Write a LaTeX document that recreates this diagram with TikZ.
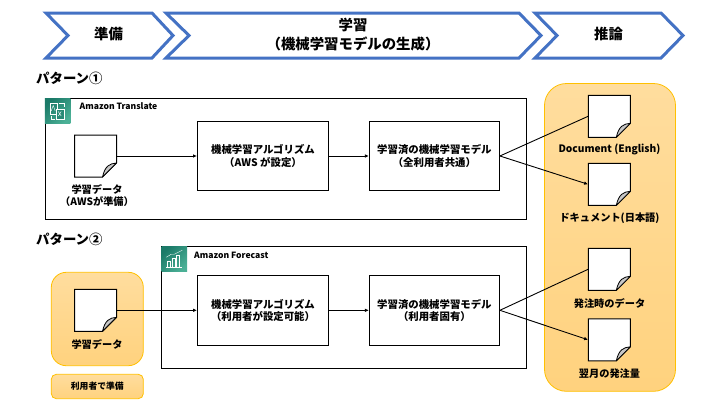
\documentclass[tikz,border=0pt]{standalone}
\usepackage{fontspec}
\setmainfont{Noto Sans CJK JP}
\usetikzlibrary{arrows.meta}
\definecolor{chevblue}{HTML}{4472C4}
\definecolor{goldline}{HTML}{FFC000}
\definecolor{goldtop}{HTML}{FFDD9E}
\definecolor{goldbot}{HTML}{FFD27E}
\definecolor{icondark}{HTML}{1B7A68}
\definecolor{iconlight}{HTML}{4BB096}
\tikzset{
  chev/.style={draw=chevblue,line width=3pt,miter limit=10,fill=white},
  panelbox/.style={draw=black,line width=1pt,fill=white,inner sep=0pt},
  procbox/.style={draw=black,line width=1pt,fill=white,inner sep=0pt,align=center,minimum height=69pt,font=\fontsize{10.4}{12.4}\selectfont\bfseries},
  goldbox/.style={draw=goldline,line width=0.8pt,top color=goldtop,bottom color=goldbot,inner sep=0pt},
  sheetanchor/.style={inner sep=0pt,minimum width=42pt,minimum height=42pt},
  lbl/.style={inner sep=0pt,align=center,font=\fontsize{10.2}{12}\selectfont\bfseries},
  bigl/.style={inner sep=0pt,align=center,font=\fontsize{14.4}{19}\selectfont\bfseries},
  patl/.style={inner sep=0pt,anchor=west,font=\fontsize{13.4}{15}\selectfont\bfseries},
  svcl/.style={inner sep=0pt,anchor=west,font=\fontsize{8.6}{10}\selectfont\bfseries},
  conn/.style={draw=black,line width=0.9pt},
  connarrow/.style={conn,-{Latex[length=4pt,width=3.6pt]}},
  iconbg/.style={inner sep=0pt,minimum width=25.5pt,minimum height=25.5pt,left color=icondark,right color=iconlight,shading angle=45},
  iconline/.style={draw=white,line width=0.4pt}
}
\newcommand{\docsheet}[3]{%
  \begin{scope}[shift={(#2,#3)}]
    \node[sheetanchor] (#1) at (0,0) {};
    \draw[black,fill=white,line width=1pt,line join=miter] (-21,-21) -- (21,-21) -- (21,7) -- (7,21) -- (-21,21) -- cycle;
    \draw[black,fill=black!22,line width=0.8pt,line join=round] (21,7) .. controls (14,7.5) and (9.5,10) .. (7,21) -- cycle;
  \end{scope}}
\begin{document}
\begin{tikzpicture}[x=1pt,y=-1pt]
\useasboundingbox (0,0) rectangle (720,405);
\fill[white] (0,0) rectangle (720,405);

% phase chevrons
\draw[chev] (46,13) -- (152,13) -- (173,35.5) -- (152,58) -- (46,58) -- (68,35.5) -- cycle;
\draw[chev] (166,13) -- (519,13) -- (541,35.5) -- (519,58) -- (166,58) -- (189,35.5) -- cycle;
\draw[chev] (535,13) -- (661,13) -- (683,35.5) -- (661,58) -- (535,58) -- (557,35.5) -- cycle;
\node[bigl] (phaseA) at (108.5,34.5) {準備};
\node[bigl] (phaseB) at (353,34.5) {学習\\（機械学習モデルの生成）};
\node[bigl] (phaseC) at (608.5,34.5) {推論};

% pattern labels
\node[patl] (patA) at (36,78.5) {パターン①};
\node[patl] (patB) at (36,239) {パターン②};

% panels
\node[panelbox,minimum width=481pt,minimum height=121pt] (panelA) at (285.75,159) {};
\node[panelbox,minimum width=364.5pt,minimum height=122pt] (panelB) at (343.75,307.3) {};

% gold areas
\node[goldbox,rounded corners=22pt,minimum width=131pt,minimum height=307.8pt] (goldR) at (610,237.4) {};
\node[goldbox,rounded corners=15pt,minimum width=92pt,minimum height=93.4pt] (goldL) at (97.3,319) {};
\node[goldbox,rounded corners=5pt,minimum width=92pt,minimum height=24.4pt,font=\fontsize{8.8}{10}\selectfont\bfseries] (goldNote) at (97.3,386.5) {利用者で準備};

% service icons
\node[iconbg] (iconA) at (57.7,111) {};
\begin{scope}[shift={(iconA.center)}]
  \draw[iconline] (-8,-8) rectangle (-1,3);
  \draw[iconline,fill=icondark!70!iconlight] (-2,-2) rectangle (6,8);
  \draw[iconline] (-6.5,0) -- (-4.5,-5.5) -- (-2.5,0);
  \draw[iconline] (0.5,0.5) -- (3.5,5) (3.5,0.5) -- (0.5,5);
  \draw[iconline] (1,-8) -- (6,-8) -- (6,-4);
  \draw[iconline] (-7,5) -- (-7,8) -- (-3,8);
\end{scope}
\node[iconbg] (iconB) at (174.3,259.2) {};
\begin{scope}[shift={(iconB.center)}]
  \draw[iconline] (-8,8) -- (8,8);
  \draw[iconline] (-7,2) rectangle (-4,8);
  \draw[iconline] (-2.5,-1) rectangle (0.5,8);
  \draw[iconline] (2,-4) rectangle (5,8);
  \draw[iconline] (-8,-2) -- (-3,-5) -- (0,-5) -- (8,-9);
\end{scope}

\node[svcl] (svcA) at (79.5,106.5) {Amazon Translate};
\node[svcl] (svcB) at (194,255.5) {Amazon Forecast};

% process boxes
\node[procbox,minimum width=131pt] (algoA) at (263,156) {機械学習アルゴリズム\\（AWS が設定）};
\node[procbox,minimum width=130pt] (modelA) at (434.4,156) {学習済の機械学習モデル\\（全利用者共通）};
\node[procbox,minimum width=131pt,minimum height=70pt] (algoB) at (263,310.3) {機械学習アルゴリズム\\（利用者が設定可能）};
\node[procbox,minimum width=130pt,minimum height=70pt] (modelB) at (434.4,310.3) {学習済の機械学習モデル\\（利用者固有）};

% documents
\docsheet{dataA}{95.5}{156}
\docsheet{dataB}{95.5}{310.3}
\docsheet{outA}{609.3}{116.3}
\docsheet{outB}{609.3}{184.3}
\docsheet{outC}{609.3}{269.3}
\docsheet{outD}{609.3}{339.8}

\node[lbl] (capA) at (97,195.5) {学習データ\\（AWSが準備）};
\node[lbl] (capB) at (97,345) {学習データ};
\node[lbl] (capC) at (609.5,149) {Document (English)};
\node[lbl] (capD) at (609.5,218) {ドキュメント(日本語)};
\node[lbl] (capE) at (609.5,303.5) {発注時のデータ};
\node[lbl] (capF) at (609.5,374) {翌月の発注量};

% connectors
\draw[connarrow] (dataA.east) -- (algoA.west);
\draw[connarrow] (algoA.east) -- (modelA.west);
\draw[conn] (modelA.east) -- (outA.west);
\draw[connarrow] (modelA.east) -- (outB.west);
\draw[connarrow] (dataB.east) -- (algoB.west);
\draw[connarrow] (algoB.east) -- (modelB.west);
\draw[conn] (modelB.east) -- (outC.west);
\draw[connarrow] (modelB.east) -- (outD.west);
\end{tikzpicture}
\end{document}
